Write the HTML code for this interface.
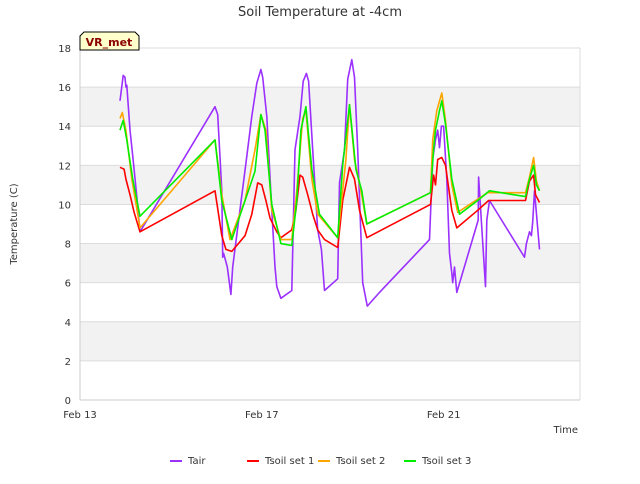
<!DOCTYPE html>
<html><head><meta charset="utf-8"><style>
body{margin:0;background:#fff;font-family:"DejaVu Sans",sans-serif}
svg text{font-family:"DejaVu Sans",sans-serif}
</style></head><body>
<svg id="chart" width="640" height="480" xmlns="http://www.w3.org/2000/svg">
<text x="320" y="16" text-anchor="middle" font-size="13" fill="#333">Soil Temperature at -4cm</text>
<g id="bands"></g>
<g id="grid"></g>
<g id="axes"></g>
<g id="series"></g>
<text transform="translate(17,224) rotate(-90)" text-anchor="middle" font-size="10" fill="#333">Temperature (C)</text>
<text x="578" y="433" text-anchor="end" font-size="10" fill="#333">Time</text>
<g>
<path d="M80,50 L80,36 L84,32 L135,32 L139,36 L139,50 Z" fill="#ffffcc" stroke="#000" stroke-width="1"/>
<text x="109" y="46" text-anchor="middle" font-size="11" font-weight="bold" fill="#8b0000">VR_met</text>
</g>
<g id="legend"></g>
</svg>
<script>
const yTicks=[0,2,4,6,8,10,12,14,16,18];
const xTickDays=[0,4,8];
const xTickLabels=["Feb 13","Feb 17","Feb 21"];
const seriesNames=["Tair","Tsoil set 1","Tsoil set 2","Tsoil set 3"];
const seriesColors=["#9b30ff","#ff0000","#ffa500","#00ee00"];
const tairDays=[0.88,0.95,0.99,1.01,1.03,1.10,1.16,1.25,1.32,2.97,3.03,3.12,3.14,3.16,3.24,3.32,3.36,3.66,3.78,3.89,3.98,4.02,4.11,4.22,4.29,4.33,4.42,4.66,4.73,4.84,4.91,4.98,5.03,5.12,5.23,5.31,5.38,5.67,5.71,5.82,5.89,5.98,6.04,6.11,6.22,6.32,6.59,7.69,7.76,7.82,7.87,7.91,7.95,8.00,8.07,8.13,8.18,8.20,8.24,8.29,8.76,8.77,8.92,8.95,9.01,9.78,9.82,9.89,9.93,9.96,10.0,10.11];
const tairVals=[15.3,16.6,16.5,16.0,16.1,13.8,12.5,10.4,8.6,15.0,14.6,10.7,7.3,7.5,6.8,5.4,6.8,12.3,14.5,16.2,16.9,16.5,14.5,9.7,6.8,5.8,5.2,5.6,12.8,14.5,16.3,16.7,16.3,12.8,8.7,7.7,5.6,6.2,11.1,12.8,16.4,17.4,16.5,12.8,6.0,4.8,5.5,8.2,12.3,13.3,13.8,12.9,14.0,14.0,11.3,7.5,6.5,6.0,6.8,5.5,9.2,11.4,5.8,9.2,10.2,7.3,8.0,8.6,8.4,9.1,10.7,7.7];
const ts1Days=[0.88,0.97,1.01,1.10,1.19,1.32,2.97,3.12,3.21,3.34,3.63,3.78,3.91,4.0,4.09,4.18,4.33,4.42,4.66,4.75,4.84,4.90,5.01,5.12,5.23,5.38,5.67,5.78,5.93,6.04,6.15,6.31,7.71,7.78,7.82,7.87,7.96,8.04,8.18,8.29,8.75,8.99,9.80,9.89,9.98,10.02,10.11];
const ts1Vals=[11.9,11.8,11.3,10.5,9.6,8.6,10.7,8.4,7.7,7.6,8.4,9.5,11.1,11.0,10.2,9.3,8.6,8.3,8.7,9.7,11.5,11.4,10.5,9.5,8.7,8.2,7.8,10.2,11.9,11.3,9.7,8.3,10.0,11.5,11.0,12.3,12.4,12.0,9.7,8.8,9.7,10.2,10.2,11.2,11.5,10.5,10.1];
const ts2Days=[0.88,0.93,1.01,1.14,1.32,2.97,3.12,3.30,3.63,3.85,3.98,4.09,4.22,4.42,4.66,4.77,4.90,4.97,5.10,5.23,5.67,5.85,5.93,6.04,6.18,6.31,7.71,7.76,7.85,7.96,8.04,8.18,8.31,8.97,9.80,9.89,9.98,10.04,10.11];
const ts2Vals=[14.4,14.7,13.8,11.3,8.8,13.3,10.5,8.2,10.2,12.8,14.6,13.8,9.7,8.2,8.2,10.7,14.4,14.8,11.3,9.5,8.3,12.3,15.1,12.3,10.7,9.0,10.6,13.3,14.8,15.7,14.3,11.0,9.6,10.6,10.6,11.4,12.4,11.2,10.7];
const ts3Days=[0.88,0.95,1.03,1.16,1.32,2.97,3.12,3.34,3.85,3.98,4.07,4.22,4.42,4.66,4.77,4.86,4.97,5.10,5.27,5.67,5.78,5.93,6.07,6.20,6.31,7.71,7.78,7.82,7.91,7.96,8.04,8.18,8.35,8.75,9.01,9.80,9.89,9.98,10.04,10.11];
const ts3Vals=[13.8,14.3,13.3,11.3,9.4,13.3,10.2,8.2,11.7,14.6,13.8,10.0,8.0,7.9,10.2,13.8,15.0,11.8,9.5,8.3,12.0,15.1,11.8,10.7,9.0,10.6,12.8,13.8,14.8,15.3,14.1,11.3,9.5,10.2,10.7,10.4,11.3,12.0,11.0,10.7];

const NS="http://www.w3.org/2000/svg";
const X0=80,X1=580,Y0=400,Y1=48,DMAX=11,VMAX=18;
function xs(d){return X0+(d/DMAX)*(X1-X0);}
function ys(v){return Y0-(v/VMAX)*(Y0-Y1);}
function mk(tag,attrs,parent){const e=document.createElementNS(NS,tag);for(const k in attrs)e.setAttribute(k,attrs[k]);parent.appendChild(e);return e;}
const bands=document.getElementById('bands'),grid=document.getElementById('grid'),axes=document.getElementById('axes'),ser=document.getElementById('series'),leg=document.getElementById('legend');
for(let i=0;i<yTicks.length-1;i++){
  if(i%2===1){const r=mk('rect',{x:X0,y:ys(yTicks[i+1]),width:X1-X0,height:ys(yTicks[i])-ys(yTicks[i+1]),fill:'#f2f2f2'},bands);
  
  }
}
yTicks.forEach(v=>{
  const l=mk('line',{x1:X0,x2:X1,y1:ys(v),y2:ys(v),stroke:'#dcdcdc','stroke-width':1},grid);
  
  
  const t=mk('text',{x:X0-9,y:ys(v)+4,'text-anchor':'end','font-size':10,fill:'#333'},axes);
  
  
  t.textContent=v;
});
const ax=mk('line',{x1:X0,x2:X1,y1:Y0,y2:Y0,stroke:'#ccc'},axes);


const ay=mk('line',{x1:X0,x2:X0,y1:Y0,y2:Y1,stroke:'#ccc'},axes);


const ar=mk('line',{x1:X1,x2:X1,y1:Y0,y2:Y1,stroke:'#ddd'},axes);


xTickDays.forEach((d,i)=>{
  const t=mk('text',{x:xs(d),y:Y0+18,'text-anchor':'middle','font-size':10,fill:'#333'},axes);
  
  
  t.textContent=xTickLabels[i];
});
const allDays=[tairDays,ts1Days,ts2Days,ts3Days],allVals=[tairVals,ts1Vals,ts2Vals,ts3Vals];
[0,1,2,3].forEach(s=>{
  const pts=allDays[s].map((d,i)=>xs(d).toFixed(1)+','+ys(allVals[s][i]).toFixed(1)).join(' ');
  const p=mk('polyline',{points:pts,fill:'none',stroke:seriesColors[s],'stroke-width':1.6,'stroke-linejoin':'round'},ser);
  
  
});
const legX=[170,247,318,404];
seriesNames.forEach((n,i)=>{
  const g=mk('g',{},leg);
  
  
  mk('line',{x1:legX[i],x2:legX[i]+12,y1:461,y2:461,stroke:seriesColors[i],'stroke-width':2},g);
  const t=mk('text',{x:legX[i]+18,y:464,'font-size':10,fill:'#333'},g);
  t.textContent=n;
});
</script>
</body></html>
